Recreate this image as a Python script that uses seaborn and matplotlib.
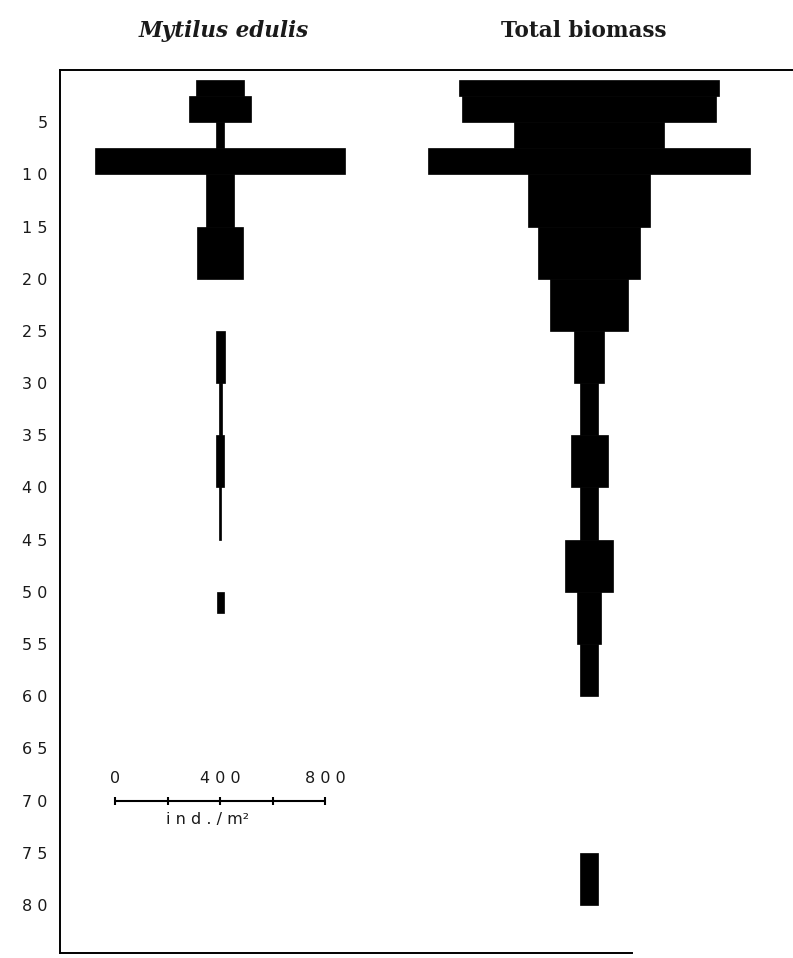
import numpy as np
import matplotlib
matplotlib.use("Agg")
import matplotlib.pyplot as plt
import seaborn as sns

# Depth intervals (m) and densities of Mytilus edulis (ind./m²)
mytilus_upper = [1, 2.5, 5, 7.5, 10, 15, 25, 30, 35, 40, 50]
mytilus_lower = [2.5, 5, 7.5, 10, 15, 20, 30, 35, 40, 45, 52]
mytilus_density = [183, 236, 30, 952, 107, 175, 34, 11, 30, 10, 27]

# Depth intervals (m) and total biomass (relative units, drawn on the same width scale)
biomass_upper = [1, 2.5, 5, 7.5, 10, 15, 20, 25, 30, 35, 40, 45, 50, 55, 75]
biomass_lower = [2.5, 5, 7.5, 10, 15, 20, 25, 30, 35, 40, 45, 50, 55, 60, 80]
biomass_value = [990, 971, 571, 1227, 465, 389, 297, 114, 72, 141, 72, 183, 91, 72, 72]

depth_ticks = list(range(5, 85, 5))
depth_labels = [" ".join(str(d)) for d in depth_ticks]

scale_values = [0, 200, 400, 600, 800]
scale_labels = {0: "0", 400: "4 0 0", 800: "8 0 0"}

titles = ["Mytilus edulis", "Total biomass"]

sns.set_style("white")
plt.rcParams["font.family"] = ["DejaVu Sans"]

W, H = 793, 958
fig = plt.figure(figsize=(W / 100, H / 100), dpi=100)
ax_left, ax_right, ax_top, ax_bottom = 60, 793, 70, 953
ax = fig.add_axes([ax_left / W, 1 - ax_bottom / H,
                   (ax_right - ax_left) / W, (ax_bottom - ax_top) / H])

x_span = 2792
ax.set_xlim(0, x_span)
ax.set_ylim(84.6, 0)

myt_center = 610
bio_center = 2015


def kite(center, upper, lower, values):
    upper = np.asarray(upper, float)
    lower = np.asarray(lower, float)
    values = np.asarray(values, float)
    ax.barh(upper, values, height=lower - upper, left=center - values / 2,
            align="edge", color="black", edgecolor="black", linewidth=0.5)


kite(myt_center, mytilus_upper, mytilus_lower, mytilus_density)
kite(bio_center, biomass_upper, biomass_lower, biomass_value)

# Frame: left and top full, bottom partial, no right side
for side in ["left", "top", "bottom"]:
    ax.spines[side].set_visible(True)
    ax.spines[side].set_color("black")
    ax.spines[side].set_linewidth(1.4)
ax.spines["right"].set_visible(False)
ax.spines["bottom"].set_bounds(0, 2179)

ax.set_xticks([])
ax.set_yticks(depth_ticks)
ax.set_yticklabels(depth_labels, fontsize=11.5, color="#1a1a1a")
ax.tick_params(axis="y", length=0, pad=9)

# Scale bar for the Mytilus kite
scale_start = myt_center - 400
sx = [scale_start + v for v in scale_values]
ax.plot([sx[0], sx[-1]], [70, 70], color="black", lw=1.5, solid_capstyle="butt")
ax.plot(sx, [70] * len(sx), linestyle="none", marker="|", markersize=6,
        markeredgewidth=1.5, color="black")
for v, lab in scale_labels.items():
    ax.text(scale_start + v, 68.6, lab, ha="center", va="bottom",
            fontsize=11.5, color="#1a1a1a")
ax.text(scale_start + 350, 71.1, "i n d . / m²", ha="center", va="top",
        fontsize=11.5, color="#1a1a1a")

# Column headings
fig.text(224 / W, 1 - 31 / H, titles[0], ha="center", va="center",
         fontsize=15.5, family="DejaVu Serif", style="italic", weight="bold",
         color="#1a1a1a")
fig.text(584 / W, 1 - 31 / H, titles[1], ha="center", va="center",
         fontsize=15.5, family="DejaVu Serif", weight="bold", color="#1a1a1a")

fig.savefig("out.png", dpi=100, facecolor="white")
